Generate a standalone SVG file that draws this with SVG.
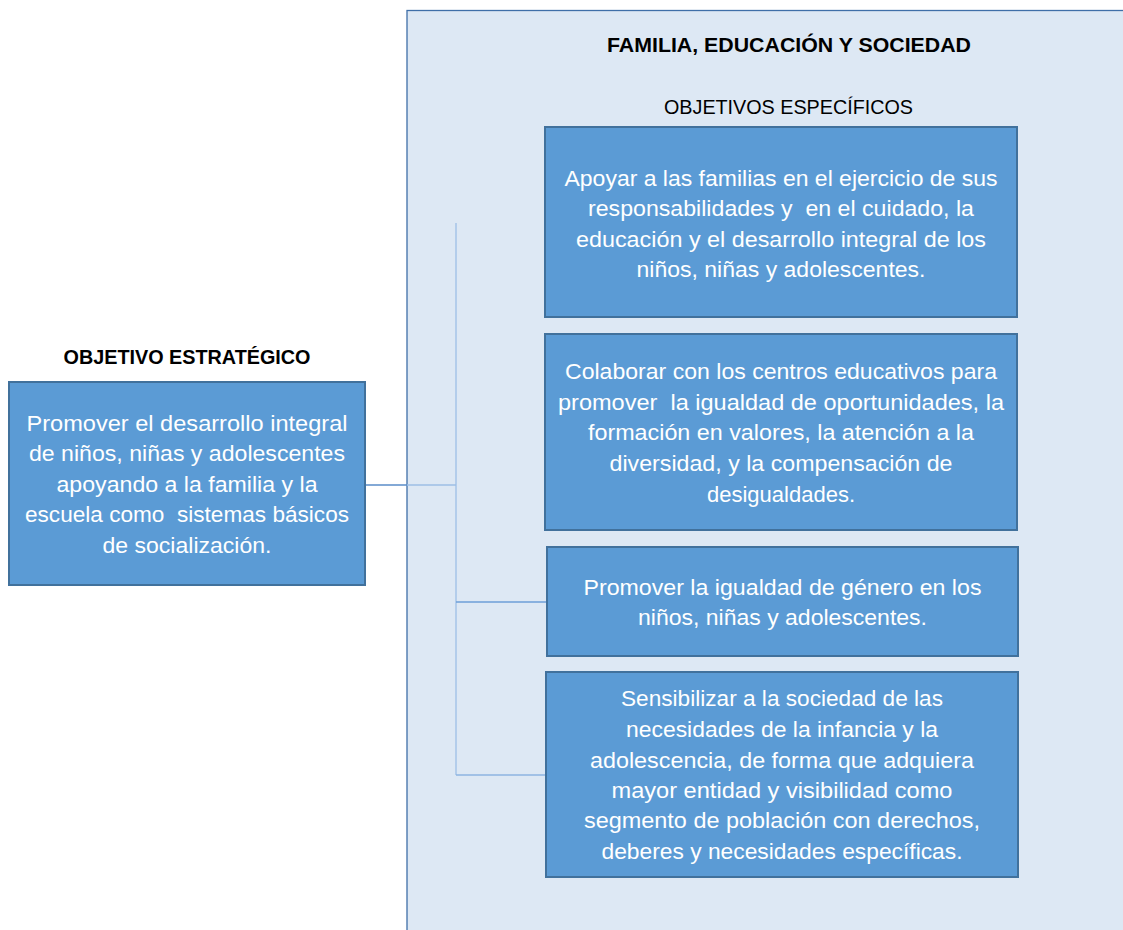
<svg xmlns="http://www.w3.org/2000/svg" width="1123" height="930" viewBox="0 0 1123 930">
<style>
.box{fill:#5b9bd5;stroke:#41719c;stroke-width:2}
.t{font-family:"Liberation Sans",Arial,sans-serif;font-size:22px;fill:#ffffff;text-anchor:middle}
.h{font-family:"Liberation Sans",Arial,sans-serif;font-size:21px;fill:#000000;text-anchor:middle}
.hb{font-family:"Liberation Sans",Arial,sans-serif;font-size:21px;font-weight:bold;fill:#000000;text-anchor:middle}
.c{fill:none;stroke-width:1.3}
</style>
<rect width="1123" height="930" fill="#ffffff"/>
<g id="panel">
<rect x="407" y="10.5" width="730" height="930" fill="#dde8f4" stroke="#3f6fa8" stroke-width="1.3"/>
<text class="hb" x="789" y="52" textLength="364" lengthAdjust="spacingAndGlyphs">FAMILIA, EDUCACIÓN Y SOCIEDAD</text>
<text class="h" x="788.5" y="114" textLength="249" lengthAdjust="spacingAndGlyphs">OBJETIVOS ESPECÍFICOS</text>
</g>
<g id="connectors">
<line class="c" x1="365" y1="485" x2="407" y2="485" stroke="#5a8dc8"/>
<line class="c" x1="407" y1="485" x2="456" y2="485" stroke="#9dbfe6"/>
<line class="c" x1="456" y1="223" x2="456" y2="775" stroke="#9dbfe6"/>
<line class="c" x1="456" y1="602" x2="547" y2="602" stroke="#6d9fd8"/>
<line class="c" x1="456" y1="775" x2="546" y2="775" stroke="#8db4e2"/>
</g>
<g id="objetivo-estrategico">
<text class="hb" x="187" y="364" textLength="247" lengthAdjust="spacingAndGlyphs">OBJETIVO ESTRATÉGICO</text>
<rect class="box" x="9" y="382" width="356" height="203"/>
<text class="t" x="187" y="431" textLength="321" lengthAdjust="spacingAndGlyphs">Promover el desarrollo integral</text>
<text class="t" x="187" y="461" textLength="316" lengthAdjust="spacingAndGlyphs">de niños, niñas y adolescentes</text>
<text class="t" x="187" y="492" textLength="261" lengthAdjust="spacingAndGlyphs">apoyando a la familia y la</text>
<text class="t" x="187" y="522" textLength="324" lengthAdjust="spacingAndGlyphs" xml:space="preserve">escuela como  sistemas básicos</text>
<text class="t" x="187" y="553" textLength="169" lengthAdjust="spacingAndGlyphs">de socialización.</text>
</g>
<g id="objetivo-1">
<rect class="box" x="545" y="127" width="472" height="190"/>
<text class="t" x="781" y="186" textLength="433" lengthAdjust="spacingAndGlyphs">Apoyar a las familias en el ejercicio de sus</text>
<text class="t" x="781" y="216" textLength="386" lengthAdjust="spacingAndGlyphs" xml:space="preserve">responsabilidades y  en el cuidado, la</text>
<text class="t" x="781" y="247" textLength="410" lengthAdjust="spacingAndGlyphs">educación y el desarrollo integral de los</text>
<text class="t" x="781" y="277" textLength="289" lengthAdjust="spacingAndGlyphs">niños, niñas y adolescentes.</text>
</g>
<g id="objetivo-2">
<rect class="box" x="545" y="334" width="472" height="196"/>
<text class="t" x="781" y="379" textLength="432" lengthAdjust="spacingAndGlyphs">Colaborar con los centros educativos para</text>
<text class="t" x="781" y="410" textLength="446" lengthAdjust="spacingAndGlyphs" xml:space="preserve">promover  la igualdad de oportunidades, la</text>
<text class="t" x="781" y="440" textLength="386" lengthAdjust="spacingAndGlyphs">formación en valores, la atención a la</text>
<text class="t" x="781" y="471" textLength="343" lengthAdjust="spacingAndGlyphs">diversidad, y la compensación de</text>
<text class="t" x="781" y="502" textLength="148" lengthAdjust="spacingAndGlyphs">desigualdades.</text>
</g>
<g id="objetivo-3">
<rect class="box" x="547" y="547" width="471" height="109"/>
<text class="t" x="782.5" y="595" textLength="398" lengthAdjust="spacingAndGlyphs">Promover la igualdad de género en los</text>
<text class="t" x="782.5" y="625" textLength="289" lengthAdjust="spacingAndGlyphs">niños, niñas y adolescentes.</text>
</g>
<g id="objetivo-4">
<rect class="box" x="546" y="672" width="472" height="205"/>
<text class="t" x="782" y="706" textLength="322" lengthAdjust="spacingAndGlyphs">Sensibilizar a la sociedad de las</text>
<text class="t" x="782" y="737" textLength="312" lengthAdjust="spacingAndGlyphs">necesidades de la infancia y la</text>
<text class="t" x="782" y="768" textLength="384" lengthAdjust="spacingAndGlyphs">adolescencia, de forma que adquiera</text>
<text class="t" x="782" y="798" textLength="341" lengthAdjust="spacingAndGlyphs">mayor entidad y visibilidad como</text>
<text class="t" x="782" y="828" textLength="396" lengthAdjust="spacingAndGlyphs">segmento de población con derechos,</text>
<text class="t" x="782" y="859" textLength="361" lengthAdjust="spacingAndGlyphs">deberes y necesidades específicas.</text>
</g>
</svg>
